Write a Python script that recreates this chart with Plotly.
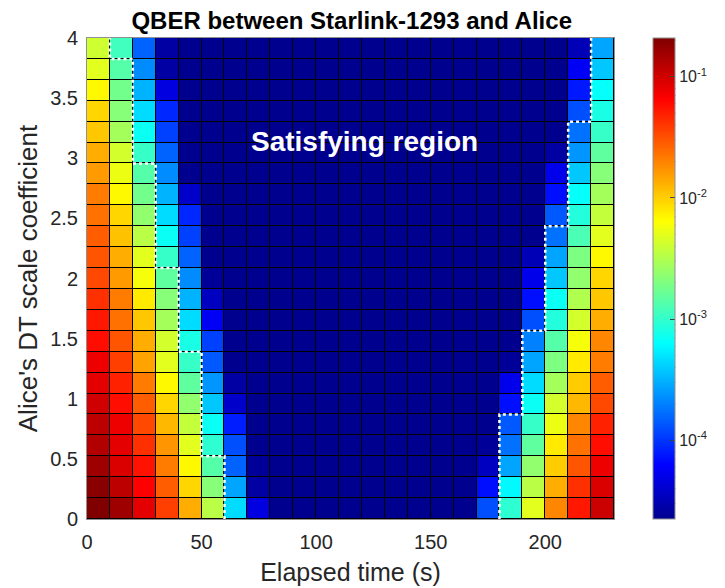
import numpy as np
import plotly.graph_objects as go

# ---------------- data ----------------
# cell edges
time_edges = [0, 10, 20, 30, 40, 50, 60, 70, 80, 90, 100, 110, 120,
              130, 140, 150, 160, 170, 180, 190, 200, 210, 220, 230]
scale_edges = list(np.linspace(0, 4, 24))

QBER_FLOOR = 2.24e-5  # value of the dark-blue (satisfying) cells

# QBER per elapsed-time column, bottom (scale 0) -> top (scale 4)
q_t0 = [0.209, 0.191, 0.159, 0.132, 0.121, 0.100, 0.0838, 0.0764, 0.0581, 0.0530, 0.0422, 0.0336,
        0.0306, 0.0280, 0.0233, 0.0212, 0.0161, 0.0135, 0.0107, 0.00934, 0.00678, 0.00492, 0.00410]
q_t10 = [0.159, 0.121, 0.0918, 0.0838, 0.0764, 0.0581, 0.0484, 0.0368, 0.0306, 0.0233, 0.0212, 0.0161,
         0.0135, 0.0112, 0.00934, 0.00678, 0.00540, 0.00429, 0.00284, 0.00216, 0.00180, 0.00137, 0.00114]
q_t20 = [0.0838, 0.0667, 0.0555, 0.0422, 0.0336, 0.0280, 0.0212, 0.0148, 0.0135, 0.0107, 0.00778, 0.00591,
         0.00492, 0.00342, 0.00237, 0.00180, 0.00137, 0.00104, 0.000690, 0.000457, 0.000317, 0.000220, 0.000153]
q_t30 = [0.0368, 0.0280, 0.0212, 0.0169, 0.0123, 0.00934, 0.00678, 0.00492, 0.00429, 0.00284, 0.00216, 0.00150,
         0.00104, 0.000690, 0.000457, 0.000317, 0.000220, 0.000153, 0.000111, 0.0000881, 0.0000465, 0.0000269, 0.0000269]
q_t40 = [0.0135, 0.00934, 0.00678, 0.00492, 0.00374, 0.00237, 0.00150, 0.00104, 0.000791, 0.000457, 0.000317,
         0.000220, 0.000153, 0.000111, 0.0000881, 0.0000387] + [QBER_FLOOR] * 7
q_t50 = [0.00342, 0.00216, 0.00137, 0.000950, 0.000690, 0.000381, 0.000241, 0.000139, 0.000111, 0.0000558,
         0.0000353, 0.0000245] + [QBER_FLOOR] * 11
q_t60 = [0.000457, 0.000277, 0.000153, 0.000127, 0.0000805, 0.0000387, 0.0000269] + [QBER_FLOOR] * 16
q_t70 = [0.0000465, 0.0000269, 0.0000245] + [QBER_FLOOR] * 20
q_t170 = [0.000127, 0.0000702, 0.0000353, 0.0000245] + [QBER_FLOOR] * 19
q_t180 = [0.000950, 0.000601, 0.000277, 0.000175, 0.000139, 0.0000702, 0.0000509, 0.0000245] + [QBER_FLOOR] * 15
q_t190 = [0.00492, 0.00342, 0.00237, 0.00150, 0.00104, 0.000690, 0.000457, 0.000277, 0.000201, 0.000127,
          0.0000702, 0.0000509, 0.0000323] + [QBER_FLOOR] * 10
q_t200 = [0.0194, 0.0135, 0.0102, 0.00778, 0.00540, 0.00429, 0.00284, 0.00197, 0.00137, 0.000867, 0.000690,
          0.000381, 0.000277, 0.000175, 0.000139, 0.0000702, 0.0000509, 0.0000269] + [QBER_FLOOR] * 5
q_t210 = [0.0530, 0.0422, 0.0306, 0.0233, 0.0194, 0.0123, 0.0102, 0.00778, 0.00591, 0.00429, 0.00312, 0.00237,
          0.00197, 0.00125, 0.000867, 0.000659, 0.000381, 0.000241, 0.000175, 0.000127, 0.0000769, 0.0000558, 0.0000323]
q_t220 = [0.105, 0.0918, 0.0764, 0.0581, 0.0484, 0.0336, 0.0280, 0.0212, 0.0194, 0.0135, 0.0107, 0.00934,
          0.00678, 0.00492, 0.00374, 0.00284, 0.00216, 0.00150, 0.00104, 0.000791, 0.000659, 0.000381, 0.000277]

columns = {0: q_t0, 10: q_t10, 20: q_t20, 30: q_t30, 40: q_t40, 50: q_t50, 60: q_t60, 70: q_t70,
           170: q_t170, 180: q_t180, 190: q_t190, 200: q_t200, 210: q_t210, 220: q_t220}

# boundary of the satisfying region (time edge per scale row, bottom -> top)
left_boundary = [60, 60, 60, 50, 50, 50, 50, 50, 40, 40, 40, 40, 30, 30, 30, 30, 30, 20, 20, 20, 20, 20, 10]
right_boundary = [180, 180, 180, 180, 180, 190, 190, 190, 190, 200, 200, 200, 200, 200,
                  210, 210, 210, 210, 210, 220, 220, 220, 220]

cb_tick_exponents = [-4, -3, -2, -1]

# ---------------- build ----------------
n_t = len(time_edges) - 1
n_s = len(scale_edges) - 1
Z = np.full((n_s, n_t), QBER_FLOOR)
for t0, col in columns.items():
    Z[:, time_edges.index(t0)] = col
Zlog = np.log10(Z)
zmin, zmax = float(Zlog.min()), float(Zlog.max())

jet = [[0.0, 'rgb(0,0,143)'], [7 / 63, 'rgb(0,0,255)'], [23 / 63, 'rgb(0,255,255)'],
       [39 / 63, 'rgb(255,255,0)'], [55 / 63, 'rgb(255,0,0)'], [1.0, 'rgb(128,0,0)']]

FIG_W, FIG_H = 725, 588
ML, MT = 87, 38
PLOT_W, PLOT_H = 530, 481
MR = FIG_W - ML - PLOT_W
MB = FIG_H - MT - PLOT_H
CB_X0 = (656.7 - ML) / PLOT_W       # colorbar left edge, paper coords
CB_THICK = 22

major_vals = [float(e) for e in cb_tick_exponents]
major_text = [f"10<sup>{e}</sup>" for e in cb_tick_exponents]
minor_vals = []
for d in range(-5, 0):
    for m in range(2, 10):
        v = np.log10(m) + d
        if zmin <= v <= zmax:
            minor_vals.append(float(v))


def step_path(bound):
    xs, ys = [], []
    for i, b in enumerate(bound):
        xs += [b, b]
        ys += [scale_edges[i], scale_edges[i + 1]]
    return xs, ys


FONT = "Arial, Liberation Sans, sans-serif"
TXT = "#262626"

fig = go.Figure()
fig.add_trace(go.Heatmap(
    x=time_edges, y=scale_edges, z=Zlog, zmin=zmin, zmax=zmax,
    colorscale=jet, xgap=1, ygap=1, hoverinfo="skip",
    colorbar=dict(
        x=CB_X0, xref="paper", xanchor="left", xpad=0,
        y=0.5, yanchor="middle", len=1, lenmode="fraction", ypad=0,
        thickness=CB_THICK, thicknessmode="pixels",
        outlinewidth=1, outlinecolor="#909090",
        tickmode="array", tickvals=major_vals, ticktext=major_text,
        ticks="inside", ticklen=5, tickcolor="#404040", tickwidth=1,
        tickfont=dict(family=FONT, size=16, color=TXT),
    ),
))

for bound in (left_boundary, right_boundary):
    xs, ys = step_path(bound)
    fig.add_trace(go.Scatter(x=xs, y=ys, mode="lines", hoverinfo="skip", showlegend=False,
                             line=dict(color="white", width=2.5, dash="3px,3px")))

# minor ticks of the log colour bar (inside, right edge)
cb_right = CB_X0 + CB_THICK / PLOT_W
for v in minor_vals:
    yp = (v - zmin) / (zmax - zmin)
    fig.add_shape(type="line", xref="paper", yref="paper",
                  x0=cb_right - 3 / PLOT_W, x1=cb_right, y0=yp, y1=yp,
                  line=dict(color="#404040", width=1))

fig.add_annotation(x=121, y=3.14, xref="x", yref="y", text="<b>Satisfying region</b>",
                   showarrow=False, font=dict(family=FONT, size=28, color="white"))

fig.update_layout(
    width=FIG_W, height=FIG_H,
    margin=dict(l=ML, r=MR, t=MT, b=MB),
    paper_bgcolor="white", plot_bgcolor="black",
    showlegend=False,
    title=dict(text="<b>QBER between Starlink-1293 and Alice</b>",
               x=351.7 / FIG_W, xanchor="center", xref="container",
               y=1 - 21 / FIG_H, yanchor="middle", yref="container",
               font=dict(family=FONT, size=24, color="black")),
    xaxis=dict(range=[0, 230], tickmode="array", tickvals=[0, 50, 100, 150, 200],
               ticks="", showgrid=False, zeroline=False, automargin=False,
               showline=True, mirror=True, linecolor="#909090", linewidth=1,
               ticklabelstandoff=5,
               tickfont=dict(family=FONT, size=20, color=TXT),
               title=dict(text="Elapsed time (s)", standoff=11,
                          font=dict(family=FONT, size=25, color=TXT))),
    yaxis=dict(range=[0, 4], tickmode="linear", tick0=0, dtick=0.5,
               ticks="", showgrid=False, zeroline=False, automargin=False,
               showline=True, mirror=True, linecolor="#909090", linewidth=1,
               ticklabelstandoff=4,
               tickfont=dict(family=FONT, size=20, color=TXT),
               title=dict(text="Alice's DT scale coefficient", standoff=5,
                          font=dict(family=FONT, size=26, color=TXT))),
)

# the page itself should add no margin around the 725x588 figure
fig.write_html("out.html", config={"displayModeBar": False},
               post_script="document.body.style.margin='0px';")
